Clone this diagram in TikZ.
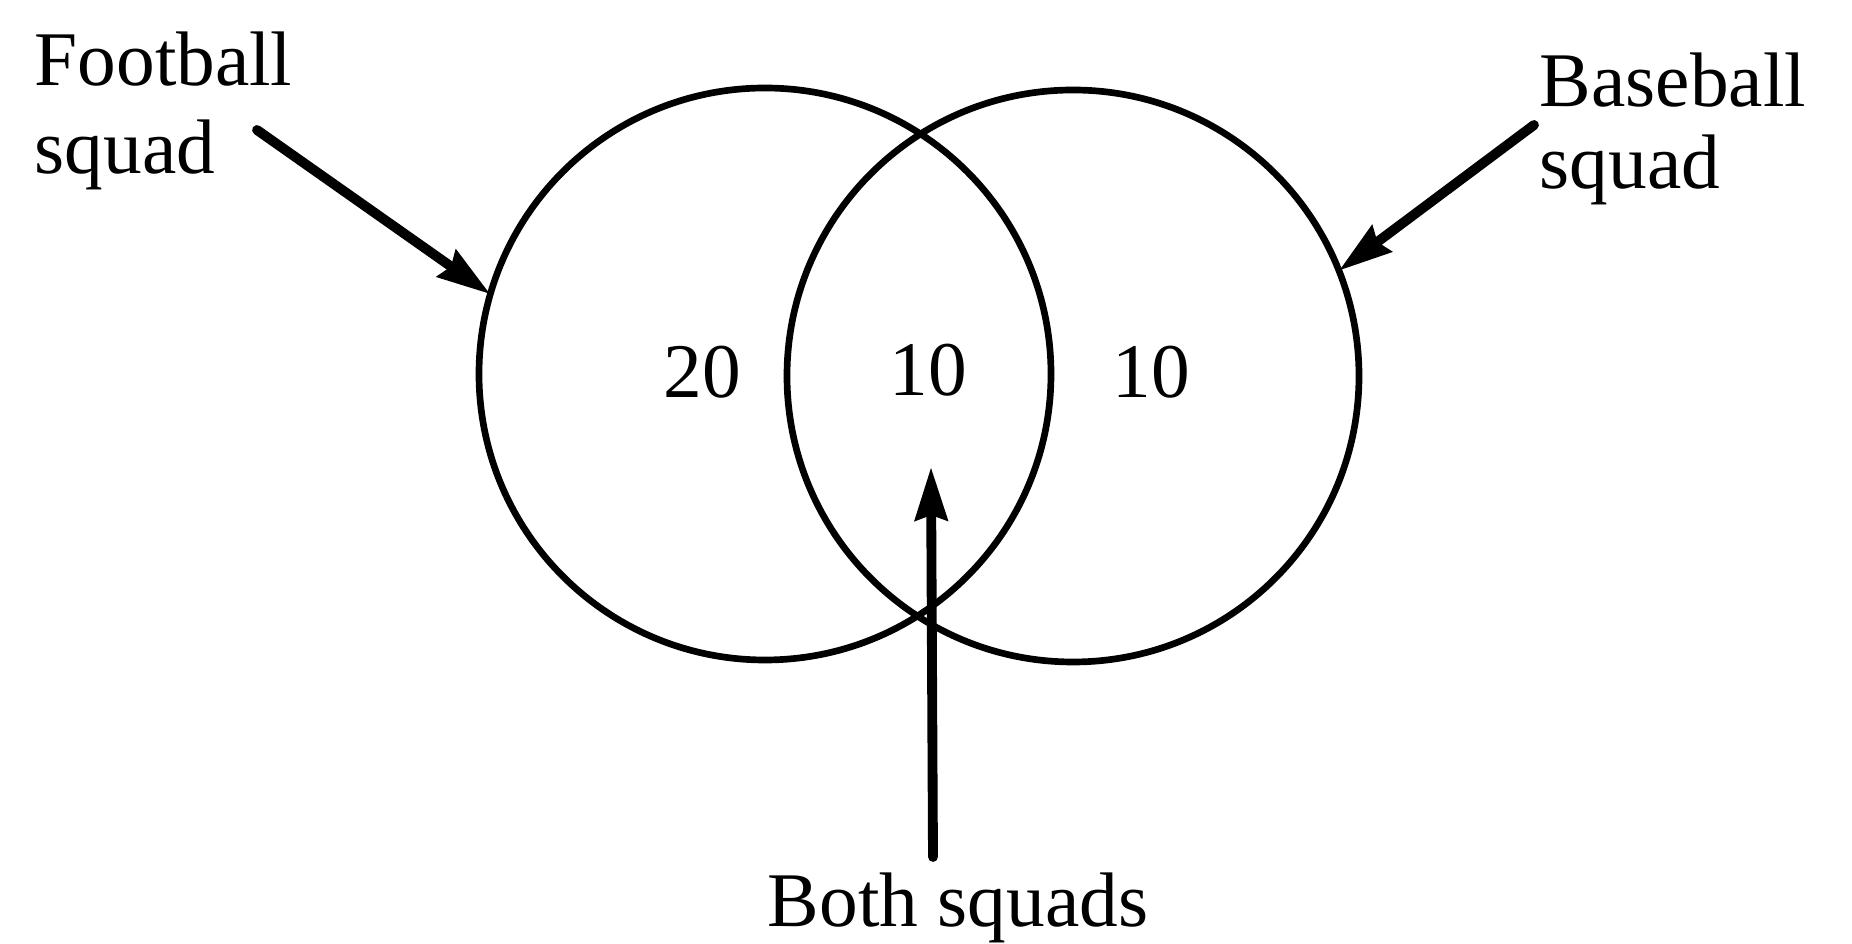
\documentclass[tikz,border=0pt]{standalone}
\usepackage{fontspec}
\setmainfont{Liberation Serif}
\usetikzlibrary{arrows.meta,calc}
\tikzset{
  ring/.style={line width=1.9pt},
  pointer/.style={line width=2.8pt, -{Stealth[length=0.53cm, width=0.32cm, inset=0.05cm]}},
  lbl/.style={font=\fontsize{22}{23.5}\selectfont, inner sep=0pt}
}
\begin{document}
\begin{tikzpicture}[line cap=round, line join=round]
\def\R{2.86}
\useasboundingbox (0,0) rectangle (18.52,9.44);

\coordinate (FC) at (7.65,5.70);
\coordinate (BC) at (10.73,5.68);

\draw[ring] (FC) circle (\R);
\draw[ring] (BC) circle (\R);

\node[lbl] (n20) at (7.02,5.72) {20};
\node[lbl] (n10a) at (9.28,5.74) {10};
\node[lbl] (n10b) at (11.51,5.72) {10};

\node[lbl, font=\fontsize{22}{25}\selectfont, align=left, anchor=north west] (foot) at (0.34,9.13) {Football\\squad};
\node[lbl, align=left, anchor=north west] (base) at (15.39,8.92) {Baseball\\squad};
\node[lbl, anchor=base] (both) at (9.58,0.17) {Both squads};

% arrow ends
\coordinate (footT) at (2.57,8.14);
\coordinate (footH) at ($(FC)+(163.8:\R)$);
\coordinate (baseT) at (15.34,8.19);
\coordinate (baseH) at ($(BC)+(21.6:\R)$);
\coordinate (bothT) at (9.33,0.87);
\coordinate (bothH) at (9.31,4.77);

\draw[pointer] (footT) -- (footH);
\draw[pointer] (baseT) -- (baseH);
\draw[pointer] (bothT) -- (bothH);
\end{tikzpicture}
\end{document}
